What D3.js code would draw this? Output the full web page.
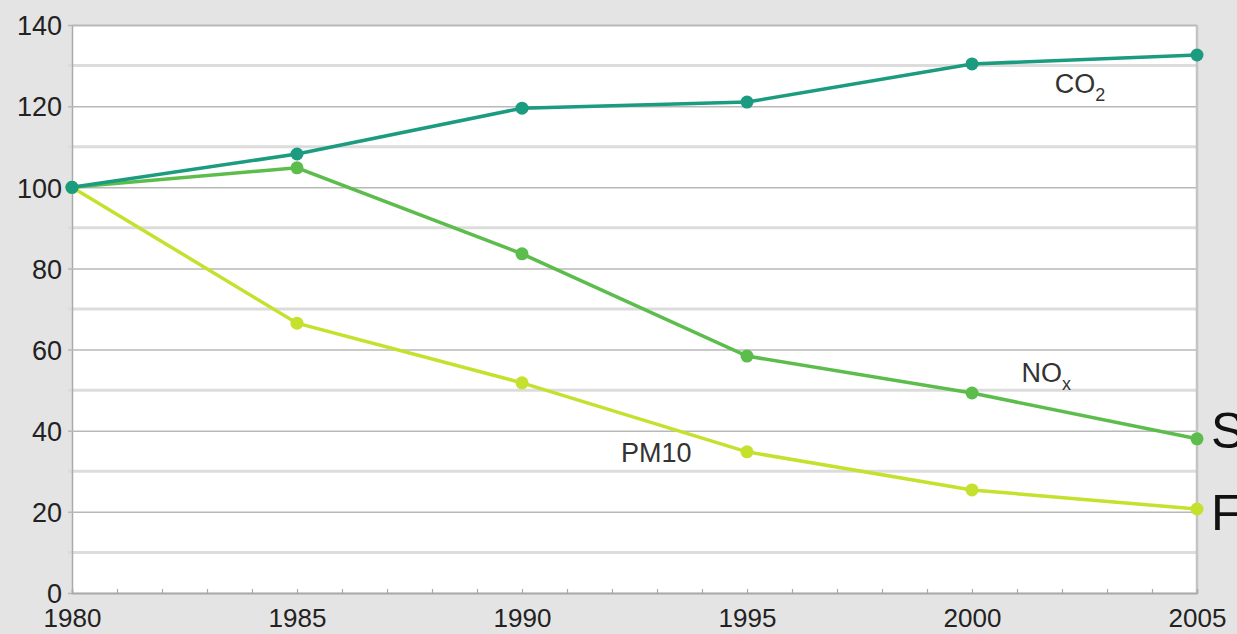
<!DOCTYPE html>
<html>
<head>
	<meta charset="utf-8">
	<title>Emissions index 1980-2005</title>
	<script src="https://cdn.jsdelivr.net/npm/d3@7"></script>
	<style>
		html, body { margin: 0; padding: 0; background: #e4e4e4; overflow: hidden; }
		svg { display: block; font-family: "Liberation Sans", Arial, sans-serif; }
	</style>
</head>
<body>
	<div id="chart"></div>
	<script type="text/javascript">
		var years = [1980, 1985, 1990, 1995, 2000, 2005];
		var co2 = [100, 108.2, 119.5, 121, 130.4, 132.6];
		var nox = [100, 104.8, 83.6, 58.4, 49.3, 38];
		var pm10 = [100, 66.5, 51.8, 34.8, 25.4, 20.7];
		var yTicks = [0, 20, 40, 60, 80, 100, 120, 140];
		var minorTicks = [10, 30, 50, 70, 90, 110, 130];

		var width = 1237, height = 634;
		var x0 = 72, x1 = 1197, yTop = 25, yBottom = 593;

		var svg = d3.select("#chart").append("svg")
					.attr("width", width)
					.attr("height", height);

		var x = d3.scaleLinear().domain([1980, 2005]).range([x0, x1]);
		var y = d3.scaleLinear().domain([0, 140]).range([yBottom, yTop]);

		// plot background
		svg.append("rect")
			.attr("x", x0).attr("y", yTop)
			.attr("width", x1 - x0).attr("height", yBottom - yTop)
			.attr("fill", "#fff");

		// light wide gridlines at the odd tens
		svg.selectAll(".minor")
			.data(minorTicks)
			.enter().append("line")
				.attr("x1", x0 - 4).attr("x2", x1)
				.attr("y1", function(d) { return y(d); })
				.attr("y2", function(d) { return y(d); })
				.attr("stroke", "#dcdcdc")
				.attr("stroke-width", 3);

		// y axis with gridlines
		var yAxis = d3.axisLeft(y)
					.tickValues(yTicks)
					.tickSize(-(x1 - x0))
					.tickPadding(10);

		var gy = svg.append("g")
					.attr("transform", "translate(" + x0 + ",0)")
					.call(yAxis);
		gy.select(".domain").attr("stroke", "#aaa").attr("stroke-width", 1.5);
		gy.selectAll(".tick line").attr("stroke", "#b8b8b8").attr("stroke-width", 1.5).attr("x1", -4);
		gy.selectAll(".tick text")
			.attr("font-size", 27)
			.attr("fill", "#222")
			.attr("x", -10)
			.attr("dy", "0.36em");

		// right border
		svg.append("line")
			.attr("x1", x1).attr("x2", x1).attr("y1", yTop).attr("y2", yBottom)
			.attr("stroke", "#c4c4c4").attr("stroke-width", 2.5);

		// x axis: small ticks at every year, labels at every 5
		var xAxis = d3.axisBottom(x)
					.tickValues(d3.range(1980, 2006))
					.tickSize(-4)
					.tickFormat(function(d) { return d % 5 === 0 ? d : ""; })
					.tickPadding(10);

		var gx = svg.append("g")
					.attr("transform", "translate(0," + yBottom + ")")
					.call(xAxis);
		gx.select(".domain").attr("stroke", "#aaa").attr("stroke-width", 1.5);
		gx.selectAll(".tick line").attr("stroke", "#aaa").attr("stroke-width", 1.2);
		gx.selectAll(".tick text")
			.attr("font-size", 26)
			.attr("fill", "#222")
			.attr("y", 34)
			.attr("dy", 0);

		var series = [
			{ name: "co2", values: co2, color: "#1b9b80" },
			{ name: "nox", values: nox, color: "#5cbd4c" },
			{ name: "pm10", values: pm10, color: "#c6e02e" }
		];

		var line = d3.line()
					.x(function(d, i) { return x(years[i]); })
					.y(function(d) { return y(d); });

		// draw back to front so CO2 is on top
		series.slice().reverse().forEach(function(s) {
			var g = svg.append("g").attr("class", s.name);
			g.append("path")
				.attr("d", line(s.values))
				.attr("fill", "none")
				.attr("stroke", s.color)
				.attr("stroke-width", 3.5);
			g.selectAll("circle")
				.data(s.values)
				.enter().append("circle")
					.attr("cx", function(d, i) { return x(years[i]); })
					.attr("cy", function(d) { return y(d); })
					.attr("r", 6.5)
					.attr("fill", s.color);
		});

		// series labels
		var co2Label = svg.append("text")
						.attr("x", x(2001.84)).attr("y", y(123.2))
						.attr("font-size", 27)
						.attr("fill", "#333")
						.text("CO");
		co2Label.append("tspan").attr("font-size", 18).attr("dy", 8).text("2");

		var noxLabel = svg.append("text")
						.attr("x", x(2001.1)).attr("y", y(52))
						.attr("font-size", 27)
						.attr("fill", "#333")
						.text("NO");
		noxLabel.append("tspan").attr("font-size", 18).attr("dy", 8).text("x");

		svg.append("text")
			.attr("x", x(1992.2)).attr("y", y(32.3))
			.attr("font-size", 27)
			.attr("fill", "#333")
			.text("PM10");

		// cut-off labels at the right edge
		svg.append("text")
			.attr("x", 1211).attr("y", 448)
			.attr("font-size", 50)
			.attr("fill", "#111")
			.text("S");
		svg.append("text")
			.attr("x", 1211).attr("y", 530)
			.attr("font-size", 50)
			.attr("fill", "#111")
			.text("F");
	</script>
</body>
</html>
